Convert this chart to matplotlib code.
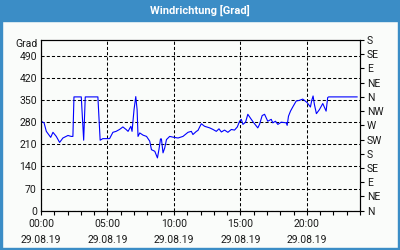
import matplotlib.pyplot as plt
from matplotlib.patches import Rectangle
from matplotlib.ticker import MultipleLocator

# hours since 00:00 on 29.08.19 and wind direction in degrees
hours = [0.00, 0.23, 0.40, 0.73, 0.90, 1.15, 1.40, 1.65, 2.03, 2.27, 2.40, 2.48,
         3.03, 3.21, 3.33, 4.28, 4.45, 4.65, 5.16, 5.41, 5.65, 5.91, 6.16, 6.40,
         6.55, 6.76, 6.85, 7.00, 7.13, 7.23, 7.30, 7.43, 7.68, 7.94, 8.18, 8.31,
         8.56, 8.76, 8.88, 8.99, 9.06, 9.18, 9.31, 9.44, 9.68, 10.01, 10.31, 10.68,
         11.06, 11.31, 11.43, 11.69, 11.81, 12.06, 12.31, 12.69, 12.94, 13.19, 13.39,
         13.57, 13.81, 14.06, 14.32, 14.56, 14.77, 14.94, 15.07, 15.19, 15.39, 15.56,
         15.82, 16.01, 16.31, 16.44, 16.64, 16.82, 17.06, 17.32, 17.44, 17.64, 17.82,
         18.07, 18.45, 18.52, 18.62, 18.77, 18.94, 19.20, 19.44, 19.69, 19.82, 20.02,
         20.27, 20.37, 20.47, 20.57, 20.72, 20.95, 21.20, 21.45, 21.57, 21.64, 23.78]
direction = [283, 278, 251, 232, 248, 235, 216, 230, 238, 235, 235, 360,
             360, 223, 360, 360, 223, 228, 228, 248, 251, 257, 265, 257,
             251, 267, 251, 320, 361, 320, 235, 246, 239, 235, 220, 193,
             188, 167, 195, 227, 227, 183, 199, 225, 235, 232, 230, 235,
             248, 251, 241, 251, 254, 275, 267, 262, 257, 251, 259,
             249, 255, 248, 257, 255, 265, 283, 289, 273, 280, 305,
             289, 278, 262, 273, 301, 305, 283, 289, 278, 283, 273,
             280, 278, 270, 299, 315, 328, 347, 349, 353, 349, 342,
             328, 349, 363, 336, 307, 320, 339, 315, 358, 360, 360]

xticks = [0, 5, 10, 15, 20]
xlabels = ['00:00\n29.08.19', '05:00\n29.08.19', '10:00\n29.08.19',
           '15:00\n29.08.19', '20:00\n29.08.19']
yticks = [0, 70, 140, 210, 280, 350, 420, 490]
compass = ['N', 'NE', 'E', 'SE', 'S', 'SW', 'W', 'NW', 'N', 'NE', 'E', 'SE', 'S']

plt.rcParams['font.family'] = ['Roboto', 'DejaVu Sans']
plt.rcParams['font.size'] = 7.5

blue = '#3b8dc6'
fig = plt.figure(figsize=(4, 2.5), dpi=100, facecolor='#fafcfa')

# title bar and frame
fig.patches.append(Rectangle((0, 1 - 21 / 250), 1, 21 / 250, transform=fig.transFigure,
                             color=blue, zorder=0))
for r in [(0, 0, 2 / 400, 1), (1 - 2 / 400, 0, 2 / 400, 1), (0, 0, 1, 2 / 250)]:
    fig.patches.append(Rectangle(r[:2], r[2], r[3], transform=fig.transFigure,
                                 color=blue, zorder=0))
fig.text(0.5, 1 - 10.5 / 250, 'Windrichtung [Grad]', ha='center', va='center',
         color='white', fontweight='bold', fontsize=8)

ax = fig.add_axes([41 / 400, 39.3 / 250, 319 / 400, 170.7 / 250])
ax.set_facecolor('#fafcfa')
ax.plot(hours, direction, color='#0000ff', lw=0.8)

ax.set_xlim(0, 24)
ax.set_ylim(0, 540)
ax.set_xticks(xticks)
ax.set_xticklabels(xlabels, linespacing=1.75)
ax.xaxis.set_minor_locator(MultipleLocator(1))
ax.set_yticks(yticks)
ax.tick_params(axis='x', which='both', direction='out', length=3, width=0.8, pad=3,
               colors='black', labelcolor='#1a1a1a')
ax.tick_params(axis='y', length=0, pad=3, labelcolor='#1a1a1a')
ax.grid(True, color='black', linestyle=(0, (3, 2)), linewidth=0.75)
for s in ax.spines.values():
    s.set_linewidth(0.8)
ax.text(-0.012, 527, 'Grad', transform=ax.get_yaxis_transform(), ha='right',
        va='center', color='#1a1a1a')

ax2 = ax.twinx()
ax2.set_ylim(0, 540)
ax2.set_yticks(range(0, 541, 45))
ax2.set_yticklabels(compass)
ax2.tick_params(axis='y', direction='out', length=3, width=0.8, pad=2,
                labelcolor='#1a1a1a')
for s in ax2.spines.values():
    s.set_linewidth(0.8)

fig.savefig('out.png', dpi=100, facecolor=fig.get_facecolor())
